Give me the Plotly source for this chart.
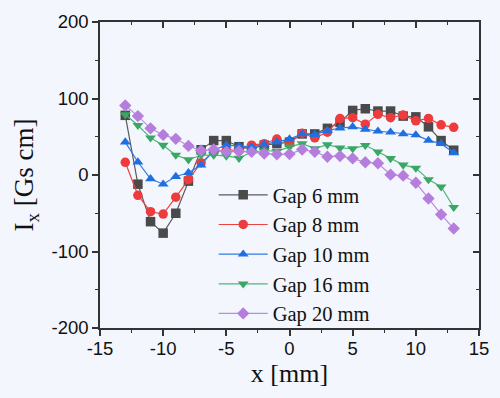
import plotly.graph_objects as go

x_mm = list(range(-13, 14))

gap6 = [78, -12, -61, -76, -50, -8, 33, 45, 45, 37, 34.5, 39, 41, 43,
        53.7, 53.7, 61, 68.7, 84.4, 86.6, 83.6, 83.6, 77, 76, 63, 45, 32.4]
gap8 = [16.6, -26.5, -48, -51, -29, -6, 16, 30, 33, 32, 39, 41, 47, 42,
        54.6, 48.6, 55.9, 73.8, 75, 66.5, 79.3, 75, 78.4, 70.8, 74, 65.6, 62.3]
gap10 = [43, 17, -5, -12, -2, 3, 13, 32.6, 39, 37.6, 36.7, 40, 43, 47,
         53.7, 52.8, 58, 61.4, 63, 59.7, 57.2, 55.9, 53.7, 52.4, 45.2, 41, 29]
gap16 = [79, 65, 48.6, 39, 26, 20, 26, 26, 25, 22, 30, 32, 31, 36.7,
         41, 34.5, 39.7, 35.4, 34.5, 38.8, 30.3, 21.7, 13.2, 9, -6, -15.4, -42.2]
gap20 = [90.8, 77, 61, 52.4, 47.3, 38, 32, 33.3, 30.3, 31, 30.3, 28, 27, 27.3,
         33.3, 30.3, 23.9, 24.7, 21.7, 16.6, 15.4, 0.4, -0.9, -10.2, -30.7, -51.6, -70]

series_names = ["Gap 6 mm", "Gap 8 mm", "Gap 10 mm", "Gap 16 mm", "Gap 20 mm"]
series_vals = [gap6, gap8, gap10, gap16, gap20]
line_colors = ["#5a5a5a", "#f04040", "#2f7be6", "#4cb878", "#b98ce0"]
marker_colors = ["#4a4a4a", "#ef3b3b", "#1f6fe0", "#3aa864", "#b57edc"]
symbols = ["square", "circle", "triangle-up", "triangle-down", "diamond"]

x_ticks = [-15, -10, -5, 0, 5, 10, 15]
x_ticklabels = ["-15", "-10", "-5", "0", "5", "10", "15"]
y_ticks = [-200, -100, 0, 100, 200]
y_ticklabels = ["-200", "-100", "0", "100", "200"]

fig = go.Figure()
for name, vals, lc, mc, sym in zip(series_names, series_vals, line_colors, marker_colors, symbols):
    fig.add_trace(go.Scatter(
        x=x_mm, y=vals, name=name, mode="lines+markers",
        line=dict(color=lc, width=1.2),
        marker=dict(symbol=sym, size=9.5, color=mc, line=dict(width=0)),
    ))

# dummy trace for mirrored top/right axes
fig.add_trace(go.Scatter(x=[None], y=[None], xaxis="x2", yaxis="y2", mode="markers",
                         showlegend=False, hoverinfo="skip"))

axis_line = dict(showline=True, linecolor="#333333", linewidth=1.5, showgrid=False, zeroline=False)
tickfont = dict(family="Liberation Sans, Arial, sans-serif", size=18.5, color="#111111")
serif = "Liberation Serif, Times New Roman, serif"

fig.update_layout(
    width=500, height=398,
    margin=dict(l=100, r=11, t=16, b=70),
    paper_bgcolor="#f3f6fd", plot_bgcolor="#f3f6fd",
    xaxis=dict(range=[-15, 15], tickvals=x_ticks, ticktext=x_ticklabels, ticks="outside",
               ticklen=6, tickwidth=1.5, tickcolor="#333333", tickfont=tickfont,
               ticklabelstandoff=-3,
               minor=dict(dtick=2.5, ticks="outside", ticklen=3, tickwidth=1.2, tickcolor="#333333"),
               title=dict(text="x [mm]", font=dict(family=serif, size=26, color="#111111"), standoff=2),
               **axis_line),
    yaxis=dict(range=[-200, 200], tickvals=y_ticks, ticktext=y_ticklabels, ticks="outside",
               ticklen=6, tickwidth=1.5, tickcolor="#333333", tickfont=tickfont,
               minor=dict(dtick=50, ticks="outside", ticklen=3, tickwidth=1.2, tickcolor="#333333"),
               title=dict(text="I<sub>x</sub> [Gs cm]", font=dict(family=serif, size=27, color="#111111"),
                          standoff=10),
               **axis_line),
    xaxis2=dict(overlaying="x", side="top", matches="x", range=[-15, 15], tickvals=x_ticks,
                ticks="inside", ticklen=6, tickwidth=1.5, tickcolor="#333333", showticklabels=False,
                minor=dict(dtick=2.5, ticks="inside", ticklen=3, tickwidth=1.2, tickcolor="#333333"),
                anchor="y2", **axis_line),
    yaxis2=dict(overlaying="y", side="right", matches="y", range=[-200, 200], tickvals=y_ticks,
                ticks="inside", ticklen=6, tickwidth=1.5, tickcolor="#333333", showticklabels=False,
                minor=dict(dtick=50, ticks="inside", ticklen=3, tickwidth=1.2, tickcolor="#333333"),
                anchor="x2", **axis_line),
    legend=dict(x=0.30, y=0.50, xanchor="left", yanchor="top", bgcolor="rgba(0,0,0,0)",
                font=dict(family=serif, size=20.5, color="#111111"),
                itemwidth=49, tracegroupgap=0),
    showlegend=True,
)

fig.write_html("out.html", config={"displayModeBar": False},
               post_script="document.body.style.margin='0';document.body.style.overflow='hidden';")
